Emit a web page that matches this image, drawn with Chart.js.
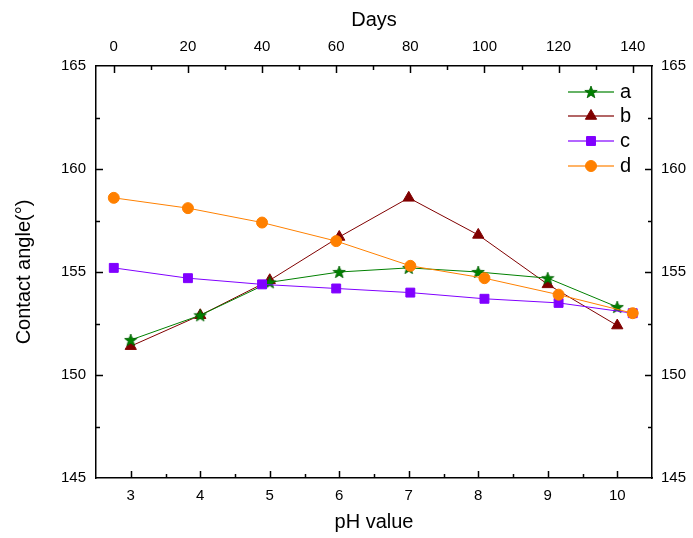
<!DOCTYPE html>
<html>
<head>
<meta charset="utf-8">
<script src="https://cdn.jsdelivr.net/npm/chart.js@4/dist/chart.umd.min.js"></script>
<style>
  html, body { margin: 0; padding: 0; background: #fff; }
  #wrap { width: 693px; height: 538px; }
</style>
</head>
<body>
<div id="wrap"><canvas id="myChart" width="693" height="538"></canvas></div>
<script>
// pH series (bottom axis)
const phValues = [3, 4, 5, 6, 7, 8, 9, 10];
const seriesA = [151.7, 152.9, 154.5, 155.0, 155.2, 155.0, 154.7, 153.3];
const seriesB = [151.4, 152.9, 154.6, 156.7, 158.6, 156.8, 154.4, 152.4];

// time series (top axis)
const dayValues = [0, 20, 40, 60, 80, 100, 120, 140];
const seriesC = [155.2, 154.7, 154.4, 154.2, 154.0, 153.7, 153.5, 153.0];
const seriesD = [158.6, 158.1, 157.4, 156.5, 155.3, 154.7, 153.9, 153.0];

const phTicks = [3, 4, 5, 6, 7, 8, 9, 10];
const dayTicks = [0, 20, 40, 60, 80, 100, 120, 140];
const angleTicks = [145, 150, 155, 160, 165];

const FONT = "'Liberation Sans', Arial, sans-serif";

// filled five-point star used as the marker for "a"
function makeStar(size, fill, stroke) {
  const c = document.createElement('canvas');
  c.width = size; c.height = size;
  const g = c.getContext('2d');
  const cx = size / 2, cy = size / 2 + 0.5;
  const ro = size / 2 - 0.5, ri = ro * 0.42;
  g.beginPath();
  for (let i = 0; i < 10; i++) {
    const r = i % 2 === 0 ? ro : ri;
    const a = -Math.PI / 2 + i * Math.PI / 5;
    g.lineTo(cx + r * Math.cos(a), cy + r * Math.sin(a));
  }
  g.closePath();
  g.fillStyle = fill;
  g.fill();
  g.strokeStyle = stroke;
  g.lineWidth = 0.8;
  g.stroke();
  return c;
}
const starImg = makeStar(14, '#008000', '#006000');

const toXY = (xs, ys) => xs.map((x, i) => ({ x: x, y: ys[i] }));

// inward ticks on all four sides, major + minor
const tickPlugin = {
  id: 'innerTicks',
  afterDraw(chart) {
    const ctx = chart.ctx;
    const s = chart.scales;
    const area = chart.chartArea;
    ctx.save();
    ctx.strokeStyle = '#000';
    ctx.lineWidth = 1.5;
    const major = 7, minor = 4;
    function hTicks(scale, values, step, y, dir) {
      const minorVals = [];
      for (let v = values[0] - step; v <= values[values.length - 1] + step; v += step) minorVals.push(v);
      minorVals.forEach(v => {
        const px = scale.getPixelForValue(v);
        if (px <= area.left + 1 || px >= area.right - 1) return;
        const isMajor = values.some(m => Math.abs(m - v) < 1e-6);
        const len = isMajor ? major : minor;
        ctx.beginPath();
        ctx.moveTo(Math.round(px) + 0.5, y);
        ctx.lineTo(Math.round(px) + 0.5, y + dir * len);
        ctx.stroke();
      });
    }
    function vTicks(scale, values, step, x, dir) {
      for (let v = values[0]; v <= values[values.length - 1] + 1e-6; v += step) {
        const py = scale.getPixelForValue(v);
        if (py <= area.top + 1 || py >= area.bottom - 1) continue;
        const isMajor = values.some(m => Math.abs(m - v) < 1e-6);
        const len = isMajor ? major : minor;
        ctx.beginPath();
        ctx.moveTo(x, Math.round(py) + 0.5);
        ctx.lineTo(x + dir * len, Math.round(py) + 0.5);
        ctx.stroke();
      }
    }
    hTicks(s.x, phTicks, 0.5, area.bottom, -1);
    hTicks(s.x2, dayTicks, 10, area.top, 1);
    vTicks(s.y, angleTicks, 2.5, area.left, 1);
    vTicks(s.y2, angleTicks, 2.5, area.right, -1);
    ctx.restore();
  }
};

// legend: short line with marker, then the label
const legendPlugin = {
  id: 'lineLegend',
  afterDraw(chart) {
    const ctx = chart.ctx;
    const x0 = 568, x1 = 614, xm = 591, xt = 620;
    const rowY = [92, 116, 141, 166];
    ctx.save();
    chart.data.datasets.forEach((ds, i) => {
      const y = rowY[i];
      ctx.globalAlpha = 0.6;
      ctx.strokeStyle = ds.borderColor;
      ctx.lineWidth = 2;
      ctx.beginPath();
      ctx.moveTo(x0, y);
      ctx.lineTo(x1, y);
      ctx.stroke();
      ctx.globalAlpha = 1;
      if (ds.pointStyle instanceof HTMLCanvasElement) {
        ctx.drawImage(ds.pointStyle, xm - ds.pointStyle.width / 2, y - ds.pointStyle.height / 2);
      } else {
        ctx.fillStyle = ds.pointBackgroundColor;
        ctx.strokeStyle = ds.pointBorderColor;
        ctx.lineWidth = 1;
        Chart.helpers.drawPoint(ctx, { pointStyle: ds.pointStyle, radius: ds.pointRadius, rotation: 0, borderWidth: 1 }, xm, y);
      }
      ctx.fillStyle = '#000';
      ctx.font = '20px ' + FONT;
      ctx.textBaseline = 'middle';
      ctx.textAlign = 'left';
      ctx.fillText(ds.label, xt, y);
    });
    ctx.restore();
  }
};

function fixTicks(values) {
  return scale => { scale.ticks = values.map(v => ({ value: v })); };
}
function fixSize(prop, size) {
  return scale => { scale[prop] = size; };
}

const tickFont = { family: FONT, size: 15 };
const titleFont = { family: FONT, size: 20 };

const ctx = document.getElementById('myChart').getContext('2d');
const chart = new Chart(ctx, {
  type: 'line',
  data: {
    datasets: [{
      label: 'a',
      data: toXY(phValues, seriesA),
      xAxisID: 'x', yAxisID: 'y',
      borderColor: '#008000',
      borderWidth: 1,
      pointStyle: starImg,
      pointBackgroundColor: '#008000',
      pointBorderColor: '#008000',
      order: 3
    }, {
      label: 'b',
      data: toXY(phValues, seriesB),
      xAxisID: 'x', yAxisID: 'y',
      borderColor: '#800000',
      borderWidth: 1,
      pointStyle: 'triangle',
      pointRadius: 6.5,
      pointBackgroundColor: '#800000',
      pointBorderColor: '#800000',
      order: 4
    }, {
      label: 'c',
      data: toXY(dayValues, seriesC),
      xAxisID: 'x2', yAxisID: 'y',
      borderColor: '#8000ff',
      borderWidth: 1,
      pointStyle: 'rect',
      pointRadius: 6.3,
      pointBackgroundColor: '#8000ff',
      pointBorderColor: '#8000ff',
      order: 2
    }, {
      label: 'd',
      data: toXY(dayValues, seriesD),
      xAxisID: 'x2', yAxisID: 'y',
      borderColor: '#ff8000',
      borderWidth: 1,
      pointStyle: 'circle',
      pointRadius: 5.5,
      pointBackgroundColor: '#ff8000',
      pointBorderColor: '#ff8000',
      order: 1
    }]
  },
  options: {
    responsive: false,
    animation: false,
    events: [],
    layout: { padding: 0 },
    plugins: { legend: { display: false }, tooltip: { enabled: false } },
    elements: { line: { tension: 0 } },
    scales: {
      x: {
        type: 'linear', position: 'bottom', min: 2.5, max: 10.5,
        afterBuildTicks: fixTicks(phTicks),
        afterFit: fixSize('height', 60),
        grid: { display: false, drawTicks: false },
        border: { display: true, color: '#000', width: 1.5 },
        ticks: { color: '#000', font: tickFont, padding: 9, maxRotation: 0 },
        title: { display: true, text: 'pH value', color: '#000', font: titleFont, padding: 4 }
      },
      x2: {
        type: 'linear', position: 'top', min: -4.8, max: 145.2,
        afterBuildTicks: fixTicks(dayTicks),
        afterFit: fixSize('height', 66),
        grid: { display: false, drawTicks: false },
        border: { display: true, color: '#000', width: 1.5 },
        ticks: { color: '#000', font: tickFont, padding: 10, maxRotation: 0 },
        title: { display: true, text: 'Days', color: '#000', font: titleFont, padding: 8 }
      },
      y: {
        type: 'linear', position: 'left', min: 145, max: 165,
        afterBuildTicks: fixTicks(angleTicks),
        afterFit: fixSize('width', 96),
        grid: { display: false, drawTicks: false },
        border: { display: true, color: '#000', width: 1.5 },
        ticks: { color: '#000', font: tickFont, padding: 10 },
        title: { display: true, text: 'Contact angle(°)', color: '#000', font: titleFont, padding: 12 }
      },
      y2: {
        type: 'linear', position: 'right', min: 145, max: 165,
        afterBuildTicks: fixTicks(angleTicks),
        afterFit: fixSize('width', 41),
        grid: { display: false, drawTicks: false },
        border: { display: true, color: '#000', width: 1.5 },
        ticks: { color: '#000', font: tickFont, padding: 9 }
      }
    }
  },
  plugins: [tickPlugin, legendPlugin]
});
</script>
</body>
</html>
